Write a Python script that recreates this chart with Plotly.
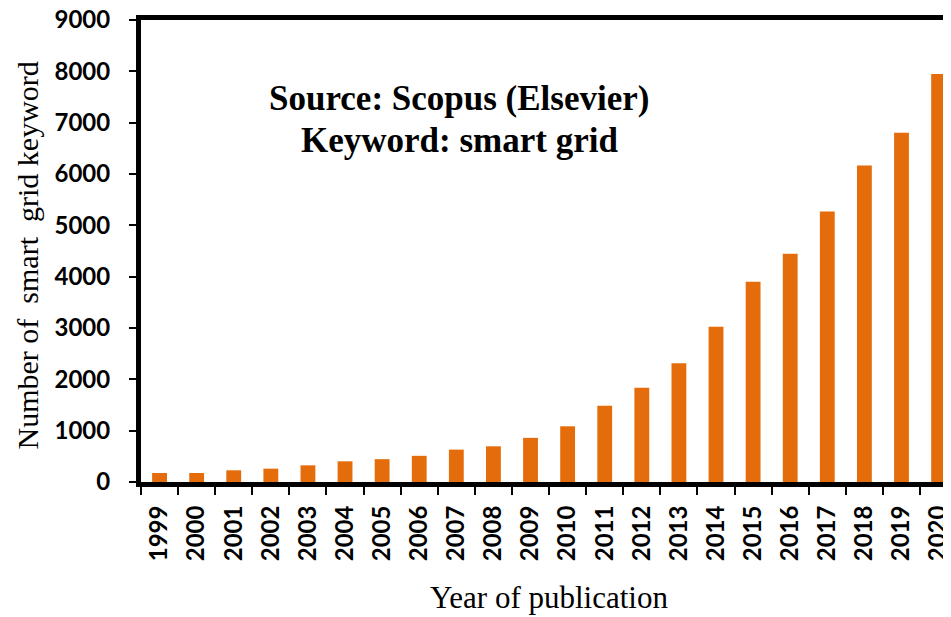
import plotly.graph_objects as go

years = [str(y) for y in range(1999, 2021)]
counts = [175, 175, 228, 260, 325, 403, 445, 510, 631, 695, 860, 1085,
          1485, 1835, 2312, 3022, 3900, 4445, 5270, 6168, 6805, 7950]
y_ticks = [0, 1000, 2000, 3000, 4000, 5000, 6000, 7000, 8000, 9000]

bar_color = "#E46C0A"
sans = "Lato, Liberation Sans, Arial, sans-serif"
serif = "Liberation Serif, Times New Roman, serif"

fig = go.Figure()
fig.add_trace(go.Bar(x=years, y=counts, marker=dict(color=bar_color, line=dict(width=0)), width=0.40))

fig.update_layout(
    width=951, height=617,
    margin=dict(l=133, r=0, t=12, b=143, autoexpand=False),
    paper_bgcolor="white", plot_bgcolor="white",
    showlegend=False,
    xaxis=dict(
        type="category", range=[-0.5, 21.55],
        showline=True, linecolor="black", linewidth=5, mirror=True,
        ticks="outside", tickson="boundaries", ticklen=8, tickwidth=2, tickcolor="black",
        tickangle=-90, showgrid=False, automargin=False,
        ticklabelstandoff=9, ticklabeloverflow="allow",
        tickfont=dict(family=sans, size=24, color="black", weight="bold"),
    ),
    yaxis=dict(
        range=[0, 9000], tickvals=y_ticks, ticktext=[str(v) for v in y_ticks],
        showline=True, linecolor="black", linewidth=5, mirror=False,
        ticks="outside", ticklen=7, tickwidth=2, tickcolor="black",
        showgrid=False, zeroline=False, automargin=False,
        ticklabelstandoff=14, ticklabeloverflow="allow",
        tickfont=dict(family=sans, size=24, color="black", weight="bold"),
    ),
    annotations=[
        dict(text="Source: Scopus (Elsevier)", x=0.389, y=0.831, xref="paper", yref="paper",
             showarrow=False, xanchor="center", yanchor="middle",
             font=dict(family=serif, size=35, color="black", weight="bold")),
        dict(text="Keyword: smart grid", x=0.389, y=0.740, xref="paper", yref="paper",
             showarrow=False, xanchor="center", yanchor="middle",
             font=dict(family=serif, size=35, color="black", weight="bold")),
        dict(text="Number of  smart  grid keyword", x=-0.139, y=0.491, xref="paper", yref="paper",
             showarrow=False, xanchor="center", yanchor="middle", textangle=-90,
             font=dict(family=serif, size=30, color="black")),
        dict(text="Year of publication", x=0.499, y=-0.251, xref="paper", yref="paper",
             showarrow=False, xanchor="center", yanchor="middle",
             font=dict(family=serif, size=31, color="black")),
    ],
)

fig.write_html("out.html")
